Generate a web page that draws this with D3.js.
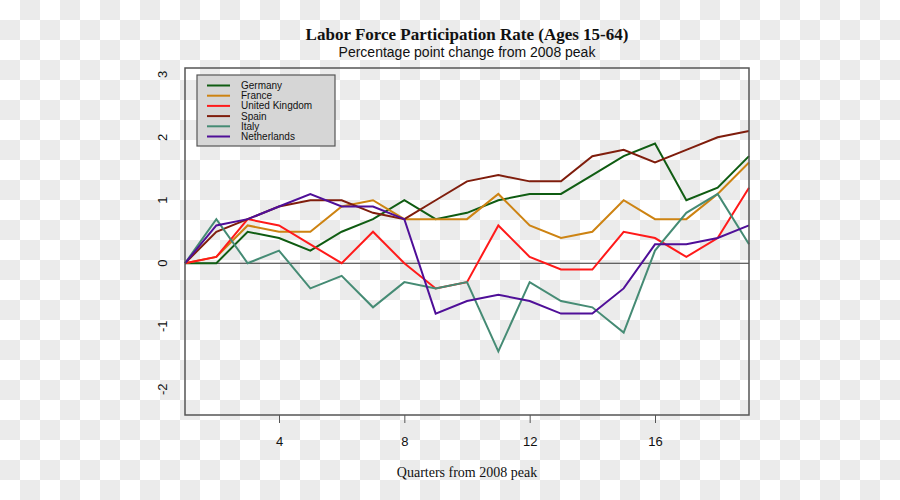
<!DOCTYPE html>
<html><head><meta charset="utf-8">
<script src="https://cdn.jsdelivr.net/npm/d3@7/dist/d3.min.js"></script>
<style>body{margin:0;} svg{display:block;}</style>
</head><body>
<svg id="chart" width="900" height="500"></svg>
<script>
const quarters = d3.range(1, 20);
const germany     = [0, 0, 0.5, 0.4, 0.2, 0.5, 0.7, 1.0, 0.7, 0.8, 1.0, 1.1, 1.1, 1.4, 1.7, 1.9, 1.0, 1.2, 1.7];
const france      = [0, 0.1, 0.6, 0.5, 0.5, 0.9, 1.0, 0.7, 0.7, 0.7, 1.1, 0.6, 0.4, 0.5, 1.0, 0.7, 0.7, 1.1, 1.6];
const uk          = [0, 0.1, 0.7, 0.6, 0.3, 0, 0.5, 0, -0.4, -0.3, 0.6, 0.1, -0.1, -0.1, 0.5, 0.4, 0.1, 0.4, 1.2];
const spain       = [0, 0.5, 0.7, 0.9, 1.0, 1.0, 0.8, 0.7, 1.0, 1.3, 1.4, 1.3, 1.3, 1.7, 1.8, 1.6, 1.8, 2.0, 2.1];
const italy       = [0, 0.7, 0, 0.2, -0.4, -0.2, -0.7, -0.3, -0.4, -0.3, -1.4, -0.3, -0.6, -0.7, -1.1, 0.2, 0.8, 1.1, 0.3];
const netherlands = [0, 0.6, 0.7, 0.9, 1.1, 0.9, 0.9, 0.7, -0.8, -0.6, -0.5, -0.6, -0.8, -0.8, -0.4, 0.3, 0.3, 0.4, 0.6];
const seriesNames  = ["Germany", "France", "United Kingdom", "Spain", "Italy", "Netherlands"];
const seriesColors = ["#0f5c12", "#cd8312", "#ff1a1a", "#7f1d0c", "#458b74", "#4f0f98"];
const xTicks = [4, 8, 12, 16];
const yTicks = [-2, -1, 0, 1, 2, 3];
const seriesValues = [germany, france, uk, spain, italy, netherlands];

const svg = d3.select("#chart");
// checkerboard background
const defs = svg.append("defs");
const pat = defs.append("pattern").attr("id", "checker").attr("patternUnits", "userSpaceOnUse")
  .attr("width", 40).attr("height", 40);
pat.append("rect").attr("width", 40).attr("height", 40).attr("fill", "#ffffff");
pat.append("rect").attr("x", 20).attr("y", 0).attr("width", 20).attr("height", 20).attr("fill", "#ebebeb");
pat.append("rect").attr("x", 0).attr("y", 20).attr("width", 20).attr("height", 20).attr("fill", "#ebebeb");
svg.append("rect").attr("width", 900).attr("height", 500).attr("fill", "url(#checker)");

const pLeft = 185, pRight = 749, pTop = 68, pBottom = 415;
const x = d3.scaleLinear().domain([1, 19]).range([pLeft, pRight]);
const y = d3.scaleLinear().domain([-2.41, 3.1]).range([pBottom, pTop]);

// zero line
svg.append("line").attr("x1", pLeft).attr("x2", pRight).attr("y1", y(0)).attr("y2", y(0))
  .attr("stroke", "#333").attr("stroke-width", 1.2);

// lines
const line = d3.line().x((d, i) => x(quarters[i])).y(d => y(d));
seriesValues.forEach((vals, k) => {
  svg.append("path").datum(vals).attr("d", line).attr("fill", "none")
    .attr("stroke", seriesColors[k]).attr("stroke-width", 2).attr("stroke-linejoin", "miter");
});

// box
svg.append("rect").attr("x", pLeft).attr("y", pTop).attr("width", pRight - pLeft).attr("height", pBottom - pTop)
  .attr("fill", "none").attr("stroke", "#555").attr("stroke-width", 1.5);

// x axis
const xAxis = svg.append("g").attr("transform", `translate(0,${pBottom})`)
  .call(d3.axisBottom(x).tickValues(xTicks).tickSize(8).tickPadding(14).tickFormat(d3.format("d")));
xAxis.select(".domain").remove();
xAxis.selectAll("line").attr("stroke", "#555");
xAxis.selectAll("text").attr("font-family", "Liberation Sans, Arial, sans-serif").attr("font-size", 13).attr("fill", "#111");

// y axis labels (rotated, no ticks)
svg.append("g").selectAll("text").data(yTicks).join("text")
  .attr("transform", d => `translate(162,${y(d)}) rotate(-90)`)
  .attr("text-anchor", "middle").attr("dy", "0.35em")
  .attr("font-family", "Liberation Sans, Arial, sans-serif").attr("font-size", 13).attr("fill", "#111")
  .text(d => d);

// titles
svg.append("text").attr("x", 467).attr("y", 40).attr("text-anchor", "middle")
  .attr("font-family", "Liberation Serif, Times New Roman, serif").attr("font-weight", "bold").attr("font-size", 17)
  .attr("fill", "#111").text("Labor Force Participation Rate (Ages 15-64)");
svg.append("text").attr("x", 467).attr("y", 57).attr("text-anchor", "middle")
  .attr("font-family", "Liberation Sans, Arial, sans-serif").attr("font-size", 14)
  .attr("fill", "#111").text("Percentage point change from 2008 peak");
svg.append("text").attr("x", 467).attr("y", 477).attr("text-anchor", "middle")
  .attr("font-family", "Liberation Serif, Times New Roman, serif").attr("font-size", 14)
  .attr("fill", "#111").text("Quarters from 2008 peak");

// legend
const lg = svg.append("g");
lg.append("rect").attr("x", 197).attr("y", 75).attr("width", 138).attr("height", 71)
  .attr("fill", "#d6d6d6").attr("stroke", "#555").attr("stroke-width", 1.2);
seriesNames.forEach((name, k) => {
  const yy = 85.5 + k * 10.2;
  lg.append("line").attr("x1", 207).attr("x2", 230).attr("y1", yy).attr("y2", yy)
    .attr("stroke", seriesColors[k]).attr("stroke-width", 2);
  lg.append("text").attr("x", 241).attr("y", yy).attr("dy", "0.35em")
    .attr("font-family", "Liberation Sans, Arial, sans-serif").attr("font-size", 10).attr("fill", "#111").text(name);
});
</script>
</body></html>
